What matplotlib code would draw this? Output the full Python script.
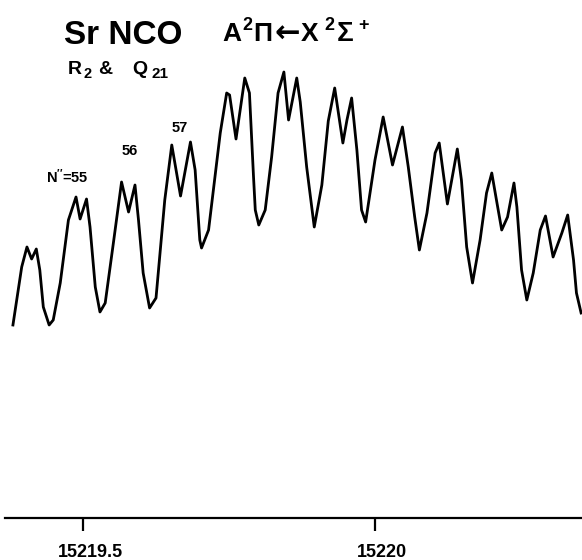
import numpy as np
import matplotlib
matplotlib.use("Agg")
import matplotlib.pyplot as plt
import matplotlib.transforms as mtransforms

plt.rcParams['font.family'] = ['Liberation Sans', 'DejaVu Sans']
plt.rcParams['font.weight'] = 'bold'
plt.rcParams['mathtext.fontset'] = 'custom'
plt.rcParams['mathtext.rm'] = 'Liberation Sans:bold'
plt.rcParams['mathtext.it'] = 'Liberation Sans:bold'
plt.rcParams['mathtext.bf'] = 'Liberation Sans:bold'

# wavenumber (cm-1) and signal (arb. units)
wavenumber = [
    15219.380, 15219.395, 15219.404, 15219.412, 15219.420, 15219.426, 15219.432,
    15219.442, 15219.449, 15219.461, 15219.475, 15219.488, 15219.495, 15219.506,
    15219.512, 15219.521, 15219.529, 15219.538, 15219.552, 15219.566, 15219.578,
    15219.589, 15219.595, 15219.603, 15219.614, 15219.625, 15219.640, 15219.652,
    15219.667, 15219.684, 15219.692, 15219.700, 15219.703, 15219.715, 15219.735,
    15219.746, 15219.751, 15219.762, 15219.777, 15219.785, 15219.792, 15219.795,
    15219.801, 15219.812, 15219.823, 15219.834, 15219.844, 15219.852, 15219.866,
    15219.872, 15219.883, 15219.896, 15219.909, 15219.920, 15219.931, 15219.945,
    15219.952, 15219.960, 15219.969, 15219.977, 15219.984, 15220.000, 15220.014,
    15220.030, 15220.047, 15220.057, 15220.068, 15220.076, 15220.089, 15220.103,
    15220.110, 15220.124, 15220.141, 15220.148, 15220.157, 15220.167, 15220.180,
    15220.191, 15220.200, 15220.208, 15220.217, 15220.227, 15220.238, 15220.243,
    15220.251, 15220.260, 15220.271, 15220.283, 15220.292, 15220.305, 15220.320,
    15220.330, 15220.340, 15220.345, 15220.353,
]
signal = [
    193, 251, 271, 259, 269, 248, 211,
    193, 198, 235, 298, 321, 299, 319,
    291, 231, 206, 215, 275, 336, 306,
    333, 298, 245, 210, 220, 318, 373,
    322, 376, 348, 278, 270, 288, 385,
    425, 423, 379, 440, 425, 341, 308,
    293, 308, 361, 425, 446, 398, 440,
    416, 351, 291, 333, 397, 430, 375,
    398, 420, 368, 308, 296, 358, 401,
    353, 391, 351, 301, 268, 305, 365,
    375, 314, 369, 338, 271, 235, 278,
    325, 345, 318, 288, 301, 335, 311,
    248, 218, 245, 288, 302, 261, 285,
    303, 258, 225, 205,
]

tick_values = [15219.5, 15220.0]
tick_labels = ["15219.5", "15220"]

line_labels = [r"N$^{\prime\prime}$=55", "56", "57"]

fig = plt.figure(figsize=(5.82, 5.6), dpi=100)
ax = fig.add_axes([5 / 582, 42 / 560, 577 / 582, 518 / 560])

ax.plot(wavenumber, signal, color='black', lw=2.0, solid_joinstyle='round')

ax.set_xlim(15219.3664, 15220.3545)
ax.set_ylim(0, 518)

for side in ['left', 'right', 'top']:
    ax.spines[side].set_visible(False)
ax.spines['bottom'].set_linewidth(1.6)
ax.set_yticks([])
ax.set_xticks(tick_values)
ax.set_xticklabels(tick_labels, fontsize=13, fontweight='bold')
ax.tick_params(axis='x', direction='out', length=9, width=1.6, pad=10)

# tick labels sit a little right of their ticks in the original
shift = mtransforms.ScaledTranslation(7 / 100, 0, fig.dpi_scale_trans)
for lab in ax.get_xticklabels():
    lab.set_transform(lab.get_transform() + shift)

def fx(px):
    return px / 582

def fy(py):
    return 1 - py / 560

fig.text(fx(123), fy(44), "Sr NCO", fontsize=24, fontweight='bold',
         ha='center', va='baseline')

# transition label, set piece by piece to copy the wide spacing
big = 19
sup = 13
fig.text(fx(222), fy(41), "A", fontsize=big, ha='left', va='baseline')
fig.text(fx(242), fy(30), "2", fontsize=sup, ha='left', va='baseline')
fig.text(fx(253), fy(41), "Π", fontsize=big, ha='left', va='baseline')
fig.text(fx(287), fy(34), "←", fontsize=22, ha='center', va='center',
         family='DejaVu Sans', fontweight='bold')
fig.text(fx(301), fy(41), "X", fontsize=big, ha='left', va='baseline')
fig.text(fx(324), fy(30), "2", fontsize=sup, ha='left', va='baseline')
fig.text(fx(337), fy(41), "Σ", fontsize=20, ha='left', va='baseline')
fig.text(fx(358), fy(30), "+", fontsize=sup, ha='left', va='baseline')

fig.text(fx(68), fy(74), "R", fontsize=14, ha='left', va='baseline')
fig.text(fx(84), fy(78), "2", fontsize=10.5, ha='left', va='baseline')
fig.text(fx(98), fy(74), "&", fontsize=14, ha='left', va='baseline')
fig.text(fx(132), fy(74), "Q", fontsize=14, ha='left', va='baseline')
fig.text(fx(151), fy(78), "21", fontsize=11, ha='left', va='baseline')

fig.text(fx(67), fy(183), line_labels[0], fontsize=10.5, fontweight='bold',
         ha='center', va='baseline')
fig.text(fx(130), fy(155), line_labels[1], fontsize=10.5, fontweight='bold',
         ha='center', va='baseline')
fig.text(fx(180), fy(132), line_labels[2], fontsize=10.5, fontweight='bold',
         ha='center', va='baseline')

fig.savefig("out.png", dpi=100)
